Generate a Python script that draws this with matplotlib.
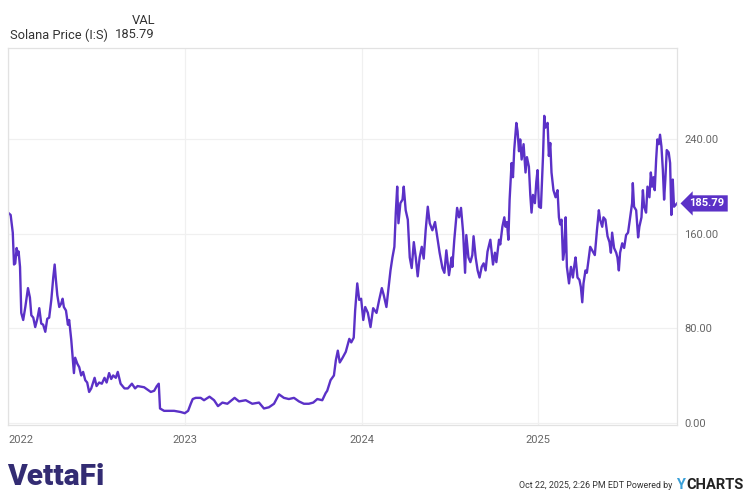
import matplotlib
matplotlib.use("Agg")
import matplotlib.pyplot as plt

plt.rcParams['font.family'] = ['Roboto', 'DejaVu Sans']

# Time in years since 2022-01-01, Solana price in USD
years = [0.000, 0.015, 0.027, 0.034, 0.041, 0.049, 0.056, 0.060, 0.068, 0.075, 0.086, 0.098,
         0.113, 0.124, 0.132, 0.143, 0.154, 0.166, 0.177, 0.188, 0.199, 0.211, 0.222, 0.233,
         0.245, 0.256, 0.264, 0.271, 0.279, 0.290, 0.301, 0.309, 0.316, 0.328, 0.339, 0.346,
         0.358, 0.366, 0.373, 0.380, 0.392, 0.403, 0.414, 0.425, 0.437, 0.448, 0.459, 0.471,
         0.490, 0.501, 0.516, 0.531, 0.546, 0.558, 0.572, 0.584, 0.595, 0.610, 0.621, 0.637,
         0.659, 0.678, 0.701, 0.719, 0.733, 0.770, 0.808, 0.827, 0.842, 0.853, 0.860, 0.883,
         0.902, 0.940, 0.977, 1.000, 1.019, 1.034, 1.045, 1.062, 1.090, 1.109, 1.140, 1.166,
         1.188, 1.213, 1.241, 1.282, 1.307, 1.345, 1.382, 1.420, 1.448, 1.476, 1.505, 1.533,
         1.561, 1.589, 1.618, 1.646, 1.674, 1.702, 1.727, 1.750, 1.778, 1.797, 1.806, 1.825,
         1.844, 1.855, 1.866, 1.877, 1.893, 1.911, 1.931, 1.942, 1.956, 1.964, 1.976, 1.987,
         1.998, 2.010, 2.021, 2.036, 2.051, 2.066, 2.085, 2.100, 2.115, 2.126, 2.141, 2.156,
         2.164, 2.175, 2.186, 2.194, 2.202, 2.209, 2.220, 2.232, 2.239, 2.250, 2.262, 2.273,
         2.284, 2.296, 2.307, 2.318, 2.329, 2.341, 2.352, 2.363, 2.375, 2.386, 2.401, 2.416,
         2.428, 2.442, 2.458, 2.469, 2.480, 2.495, 2.510, 2.514, 2.525, 2.541, 2.552, 2.563,
         2.575, 2.586, 2.593, 2.605, 2.616, 2.627, 2.634, 2.646, 2.657, 2.668, 2.680, 2.691,
         2.702, 2.713, 2.729, 2.744, 2.755, 2.763, 2.778, 2.785, 2.797, 2.808, 2.815, 2.823,
         2.831, 2.838, 2.849, 2.857, 2.864, 2.876, 2.883, 2.891, 2.898, 2.906, 2.917, 2.928,
         2.936, 2.947, 2.955, 2.962, 2.970, 2.981, 2.989, 2.996, 3.004, 3.015, 3.027, 3.034,
         3.041, 3.053, 3.060, 3.068, 3.075, 3.086, 3.098, 3.109, 3.117, 3.124, 3.132, 3.140,
         3.147, 3.155, 3.162, 3.174, 3.185, 3.196, 3.203, 3.211, 3.222, 3.233, 3.241, 3.249,
         3.256, 3.267, 3.275, 3.282, 3.294, 3.305, 3.320, 3.332, 3.343, 3.350, 3.362, 3.369,
         3.380, 3.392, 3.403, 3.411, 3.418, 3.429, 3.441, 3.448, 3.456, 3.463, 3.475, 3.486,
         3.497, 3.508, 3.520, 3.531, 3.535, 3.542, 3.554, 3.565, 3.572, 3.584, 3.592, 3.599,
         3.610, 3.618, 3.629, 3.637, 3.644, 3.652, 3.659, 3.667, 3.674, 3.682, 3.689, 3.697,
         3.705, 3.712, 3.719, 3.727, 3.738, 3.746, 3.753, 3.761, 3.768, 3.785]
price = [178, 176, 161, 134, 135, 148, 142, 145, 132, 93, 87, 98,
         114, 106, 91, 89, 81, 88, 97, 84, 83, 77, 88, 89,
         104, 123, 134, 121, 108, 98, 101, 105, 98, 95, 83, 87,
         70, 55, 42, 55, 50, 47, 40, 43, 36, 34, 26, 29,
         38, 31, 34, 33, 38, 34, 42, 37, 40, 38, 43, 33,
         29, 29, 33, 29, 31, 30, 26, 27, 31, 33, 12, 10,
         10, 10, 9, 8, 10, 16, 20, 21, 21, 19, 22, 19,
         14, 17, 16, 21, 18, 19, 16, 17, 12, 13, 16, 24,
         21, 20, 21, 18, 16, 16, 17, 20, 19, 25, 27, 36,
         40, 53, 61, 51, 55, 60, 71, 68, 72, 95, 118, 104,
         105, 87, 98, 93, 81, 97, 93, 104, 114, 108, 98, 118,
         129, 140, 149, 178, 200, 169, 186, 189, 200, 180, 172, 140,
         131, 153, 140, 124, 140, 149, 139, 163, 183, 169, 163, 170,
         158, 144, 131, 127, 146, 125, 140, 132, 155, 182, 174, 182,
         161, 127, 159, 140, 136, 142, 158, 140, 129, 123, 132, 135,
         129, 145, 155, 134, 144, 136, 155, 151, 166, 174, 166, 170,
         155, 189, 220, 208, 231, 254, 247, 230, 240, 223, 236, 212,
         225, 217, 193, 178, 193, 186, 204, 214, 183, 182, 226, 260,
         250, 254, 226, 237, 212, 197, 191, 197, 174, 168, 172, 138,
         145, 174, 132, 118, 132, 123, 132, 140, 123, 121, 115, 102,
         118, 129, 127, 135, 149, 146, 142, 163, 180, 172, 166, 174,
         172, 158, 153, 144, 161, 148, 144, 140, 129, 144, 152, 148,
         159, 161, 174, 186, 203, 183, 180, 157, 166, 174, 197, 183,
         178, 200, 191, 212, 200, 208, 197, 223, 240, 236, 244, 234,
         214, 189, 206, 231, 229, 220, 176, 206, 183, 185.79]

year_ticks = [0, 1, 2, 3]
year_labels = ["2022", "2023", "2024", "2025"]
price_ticks = [0, 80, 160, 240]
last_value = 185.79
series_name = "Solana Price (I:S)"

LINE = '#5b31c7'
W, H = 750, 496
fig = plt.figure(figsize=(W / 100, H / 100), dpi=100)
fig.patch.set_facecolor('white')

left, right, top, bottom = 8, 677, 48, 425
ax = fig.add_axes([left / W, 1 - bottom / H, (right - left) / W, (bottom - top) / H])
ax.plot(years, price, color=LINE, lw=1.7, solid_joinstyle='round')
ax.set_xlim(0, years[-1])
ax.set_ylim(-2, 317.5)

ax.set_xticks(year_ticks)
ax.set_xticklabels(year_labels)
ax.set_yticks(price_ticks)
ax.set_yticklabels([f"{v:.2f}" for v in price_ticks])
ax.yaxis.tick_right()
ax.tick_params(axis='both', length=0, colors='#666666', labelsize=8)
ax.tick_params(axis='x', pad=7)
ax.tick_params(axis='y', pad=5)
ax.xaxis.get_majorticklabels()[0].set_horizontalalignment('left')
ax.grid(True, color='#f0f0f0', lw=0.9)
ax.set_axisbelow(True)
for s in ax.spines.values():
    s.set_color('#e2e2e2')
    s.set_linewidth(0.9)

ax.annotate(f"{last_value:.2f}", xy=(1, last_value), xycoords=('axes fraction', 'data'),
            xytext=(9, 0), textcoords='offset points', ha='left', va='center',
            color='white', fontsize=8, fontweight='bold',
            bbox=dict(boxstyle='larrow,pad=0.28', fc=LINE, ec='none'))

def px(x, y):
    return x / W, 1 - y / H

fig.text(*px(155, 20), "VAL", ha='right', va='center', fontsize=9.3, color='#333333')
fig.text(*px(10, 35), series_name, ha='left', va='center', fontsize=9.3, color='#333333')
fig.text(*px(155, 35), f"{last_value:.2f}", ha='right', va='center', fontsize=9.3, color='#333333')

fig.text(*px(7, 477), "VettaFi", ha='left', va='center', fontsize=21.5, fontweight='black',
         color='#332c73')
fig.text(*px(672, 485), "Oct 22, 2025, 2:26 PM EDT Powered by", ha='right', va='center',
         fontsize=6.4, color='#333333')
fig.text(*px(676, 485), "Y", ha='left', va='center', fontsize=10.5, fontweight='bold',
         color='#3aa0d8')
fig.text(*px(686, 485), "CHARTS", ha='left', va='center', fontsize=10.5, fontweight='bold',
         color='#222222')

fig.savefig("out.png", dpi=100, facecolor='white')
